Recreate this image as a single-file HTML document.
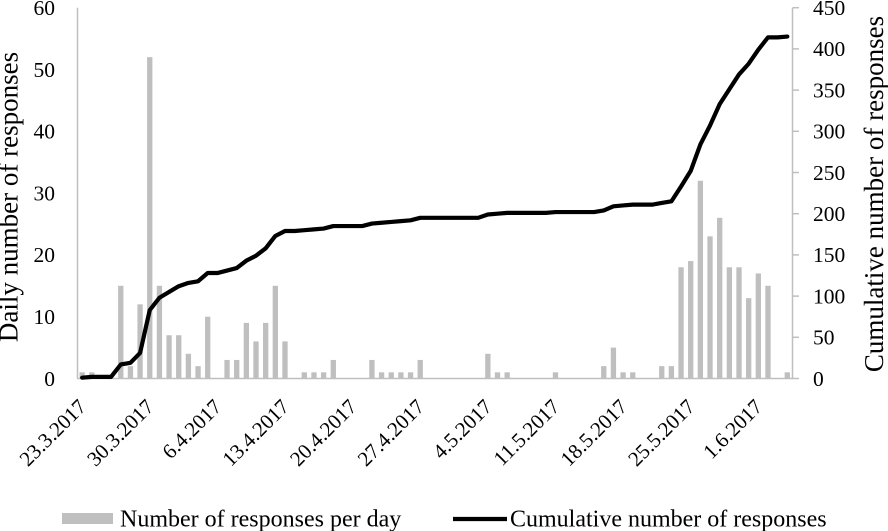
<!DOCTYPE html>
<html><head><meta charset="utf-8"><style>
html,body{margin:0;padding:0;background:#fff;}
svg{display:block;}
text{font-family:"Liberation Serif","Times New Roman",serif;fill:#000;}
</style></head><body>
<svg width="888" height="531" viewBox="0 0 888 531" xmlns="http://www.w3.org/2000/svg">
<rect width="888" height="531" fill="#fff"/>
<g fill="#bfbfbf">
<rect x="79.48" y="372.32" width="5.3" height="6.18"/>
<rect x="89.14" y="372.32" width="5.3" height="6.18"/>
<rect x="118.12" y="285.8" width="5.3" height="92.7"/>
<rect x="127.78" y="366.14" width="5.3" height="12.36"/>
<rect x="137.44" y="304.34" width="5.3" height="74.16"/>
<rect x="147.1" y="57.14" width="5.3" height="321.36"/>
<rect x="156.76" y="285.8" width="5.3" height="92.7"/>
<rect x="166.42" y="335.24" width="5.3" height="43.26"/>
<rect x="176.08" y="335.24" width="5.3" height="43.26"/>
<rect x="185.74" y="353.78" width="5.3" height="24.72"/>
<rect x="195.4" y="366.14" width="5.3" height="12.36"/>
<rect x="205.06" y="316.7" width="5.3" height="61.8"/>
<rect x="224.38" y="359.96" width="5.3" height="18.54"/>
<rect x="234.04" y="359.96" width="5.3" height="18.54"/>
<rect x="243.7" y="322.88" width="5.3" height="55.62"/>
<rect x="253.36" y="341.42" width="5.3" height="37.08"/>
<rect x="263.02" y="322.88" width="5.3" height="55.62"/>
<rect x="272.68" y="285.8" width="5.3" height="92.7"/>
<rect x="282.34" y="341.42" width="5.3" height="37.08"/>
<rect x="301.66" y="372.32" width="5.3" height="6.18"/>
<rect x="311.32" y="372.32" width="5.3" height="6.18"/>
<rect x="320.98" y="372.32" width="5.3" height="6.18"/>
<rect x="330.64" y="359.96" width="5.3" height="18.54"/>
<rect x="369.28" y="359.96" width="5.3" height="18.54"/>
<rect x="378.94" y="372.32" width="5.3" height="6.18"/>
<rect x="388.6" y="372.32" width="5.3" height="6.18"/>
<rect x="398.26" y="372.32" width="5.3" height="6.18"/>
<rect x="407.92" y="372.32" width="5.3" height="6.18"/>
<rect x="417.58" y="359.96" width="5.3" height="18.54"/>
<rect x="485.2" y="353.78" width="5.3" height="24.72"/>
<rect x="494.86" y="372.32" width="5.3" height="6.18"/>
<rect x="504.52" y="372.32" width="5.3" height="6.18"/>
<rect x="552.82" y="372.32" width="5.3" height="6.18"/>
<rect x="601.12" y="366.14" width="5.3" height="12.36"/>
<rect x="610.78" y="347.6" width="5.3" height="30.9"/>
<rect x="620.44" y="372.32" width="5.3" height="6.18"/>
<rect x="630.1" y="372.32" width="5.3" height="6.18"/>
<rect x="659.08" y="366.14" width="5.3" height="12.36"/>
<rect x="668.74" y="366.14" width="5.3" height="12.36"/>
<rect x="678.4" y="267.26" width="5.3" height="111.24"/>
<rect x="688.06" y="261.08" width="5.3" height="117.42"/>
<rect x="697.72" y="180.74" width="5.3" height="197.76"/>
<rect x="707.38" y="236.36" width="5.3" height="142.14"/>
<rect x="717.04" y="217.82" width="5.3" height="160.68"/>
<rect x="726.7" y="267.26" width="5.3" height="111.24"/>
<rect x="736.36" y="267.26" width="5.3" height="111.24"/>
<rect x="746.02" y="298.16" width="5.3" height="80.34"/>
<rect x="755.68" y="273.44" width="5.3" height="105.06"/>
<rect x="765.34" y="285.8" width="5.3" height="92.7"/>
<rect x="784.66" y="372.32" width="5.3" height="6.18"/>
</g>
<g stroke="#bfbfbf" stroke-width="1.5" fill="none">
<line x1="77.5" y1="7.7" x2="77.5" y2="378.5"/>
<line x1="792.5" y1="7.7" x2="792.5" y2="378.5"/>
<line x1="77" y1="378.5" x2="793" y2="378.5"/>
<line x1="792.5" y1="378.5" x2="799" y2="378.5"/>
<line x1="792.5" y1="337.3" x2="799" y2="337.3"/>
<line x1="792.5" y1="296.1" x2="799" y2="296.1"/>
<line x1="792.5" y1="254.9" x2="799" y2="254.9"/>
<line x1="792.5" y1="213.7" x2="799" y2="213.7"/>
<line x1="792.5" y1="172.5" x2="799" y2="172.5"/>
<line x1="792.5" y1="131.3" x2="799" y2="131.3"/>
<line x1="792.5" y1="90.1" x2="799" y2="90.1"/>
<line x1="792.5" y1="48.9" x2="799" y2="48.9"/>
<line x1="792.5" y1="7.7" x2="799" y2="7.7"/>
</g>
<polyline fill="none" stroke="#000" stroke-width="4.2" stroke-linejoin="round" stroke-linecap="round" points="82.13,377.68 91.79,376.85 101.45,376.85 111.11,376.85 120.77,364.49 130.43,362.84 140.09,352.96 149.75,310.11 159.41,297.75 169.07,291.98 178.73,286.21 188.39,282.92 198.05,281.27 207.71,273.03 217.37,273.03 227.03,270.56 236.69,268.08 246.35,260.67 256.01,255.72 265.67,248.31 275.33,235.95 284.99,231 294.65,231 304.31,230.18 313.97,229.36 323.63,228.53 333.29,226.06 342.95,226.06 352.61,226.06 362.27,226.06 371.93,223.59 381.59,222.76 391.25,221.94 400.91,221.12 410.57,220.29 420.23,217.82 429.89,217.82 439.55,217.82 449.21,217.82 458.87,217.82 468.53,217.82 478.19,217.82 487.85,214.52 497.51,213.7 507.17,212.88 516.83,212.88 526.49,212.88 536.15,212.88 545.81,212.88 555.47,212.05 565.13,212.05 574.79,212.05 584.45,212.05 594.11,212.05 603.77,210.4 613.43,206.28 623.09,205.46 632.75,204.64 642.41,204.64 652.07,204.64 661.73,202.99 671.39,201.34 681.05,186.51 690.71,170.85 700.37,144.48 710.03,125.53 719.69,104.11 729.35,89.28 739.01,74.44 748.67,63.73 758.33,49.72 767.99,37.36 777.65,37.36 787.31,36.54"/>
<g font-size="21.5" text-anchor="end">
<text x="55" y="385.8">0</text>
<text x="55" y="324">10</text>
<text x="55" y="262.2">20</text>
<text x="55" y="200.4">30</text>
<text x="55" y="138.6">40</text>
<text x="55" y="76.8">50</text>
<text x="55" y="15">60</text>
</g>
<g font-size="21.5" text-anchor="start">
<text x="813" y="385.8">0</text>
<text x="813" y="344.6">50</text>
<text x="813" y="303.4">100</text>
<text x="813" y="262.2">150</text>
<text x="813" y="221">200</text>
<text x="813" y="179.8">250</text>
<text x="813" y="138.6">300</text>
<text x="813" y="97.4">350</text>
<text x="813" y="56.2">400</text>
<text x="813" y="15">450</text>
</g>
<g font-size="21" text-anchor="end">
<text x="87.4" y="408" transform="rotate(-45 87.4 408)">23.3.2017</text>
<text x="155" y="408" transform="rotate(-45 155 408)">30.3.2017</text>
<text x="222.7" y="408" transform="rotate(-45 222.7 408)">6.4.2017</text>
<text x="290.3" y="408" transform="rotate(-45 290.3 408)">13.4.2017</text>
<text x="357.9" y="408" transform="rotate(-45 357.9 408)">20.4.2017</text>
<text x="425.5" y="408" transform="rotate(-45 425.5 408)">27.4.2017</text>
<text x="493.2" y="408" transform="rotate(-45 493.2 408)">4.5.2017</text>
<text x="560.8" y="408" transform="rotate(-45 560.8 408)">11.5.2017</text>
<text x="628.4" y="408" transform="rotate(-45 628.4 408)">18.5.2017</text>
<text x="696" y="408" transform="rotate(-45 696 408)">25.5.2017</text>
<text x="763.6" y="408" transform="rotate(-45 763.6 408)">1.6.2017</text>
</g>
<text font-size="27" text-anchor="middle" transform="translate(17.5,197) rotate(-90)">Daily number of responses</text>
<text font-size="27" text-anchor="middle" transform="translate(883,194) rotate(-90)">Cumulative number of responses</text>
<rect x="62" y="513" width="51" height="11" fill="#bfbfbf"/>
<text x="120" y="526.5" font-size="24">Number of responses per day</text>
<line x1="453" y1="519" x2="507" y2="519" stroke="#000" stroke-width="4.2"/>
<text x="510" y="526.5" font-size="24">Cumulative number of responses</text>
</svg>
</body></html>
